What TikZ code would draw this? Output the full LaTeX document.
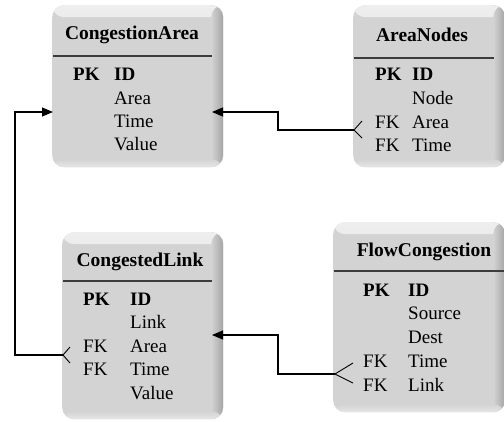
\documentclass[tikz,border=0pt]{standalone}
\usepackage{fontspec}
\setmainfont{Liberation Serif}
\usetikzlibrary{arrows.meta}
\definecolor{face}{RGB}{211,211,211}
\definecolor{lightb}{RGB}{238,238,238}
\definecolor{darkb}{RGB}{165,165,165}
\definecolor{sepline}{RGB}{60,60,60}
\tikzset{
  x=1pt,y=-1pt,
  tablebox/.style={rectangle, rounded corners=12pt, fill=face, inner sep=0pt, anchor=north west,
    path picture={
      \shade[top color=lightb,bottom color=face] (path picture bounding box.north west) rectangle ([yshift=-12pt]path picture bounding box.north east);
      \shade[left color=face,right color=darkb] ([xshift=-12pt]path picture bounding box.north east) rectangle (path picture bounding box.south east);
      \shade[top color=face,bottom color=lightb!70!face] ([yshift=8pt]path picture bounding box.south west) rectangle (path picture bounding box.south east);
    }},
  title/.style={font=\fontsize{19.5}{21}\selectfont\bfseries, inner sep=0pt, anchor=center},
  fld/.style={font=\fontsize{19}{21}\selectfont, inner sep=0pt, anchor=west},
  key/.style={font=\fontsize{19}{21}\selectfont\bfseries, inner sep=0pt, anchor=west},
  sep/.style={draw=sepline, line width=1.4pt},
  conn/.style={draw=black, line width=1.1pt},
  arr/.style={conn, -{Triangle[length=11pt,width=9pt]}},
  foot/.style={draw=black, line width=0.9pt},
}
\begin{document}
\begin{tikzpicture}
\useasboundingbox (0,0) rectangle (504,421);
\fill[white] (0,0) rectangle (504,421);
\begin{scope}
\clip (0,0) rectangle (504,421);
% ---------- CongestionArea
\node[tablebox, minimum width=171pt, minimum height=162pt] (ca) at (52,5) {};
\node[title] (catitle) at (132,35) {CongestionArea};
\draw[sep] (53,56) -- (212,56);
\node[key] (capk) at (73,74) {PK};
\node[key] (caid) at (114,74) {ID};
\node[fld] (caarea) at (114,98) {Area};
\node[fld] (catime) at (114,121) {Time};
\node[fld] (cavalue) at (114,144) {Value};
% ---------- AreaNodes
\node[tablebox, minimum width=152pt, minimum height=162pt] (an) at (353,5) {};
\node[title] (antitle) at (422,35) {AreaNodes};
\draw[sep] (354,58) -- (494,58);
\node[key] (anpk) at (375,74) {PK};
\node[key] (anid) at (412,74) {ID};
\node[fld] (annode) at (412,98) {Node};
\node[fld] (anfk1) at (375,122) {FK};
\node[fld] (anarea) at (412,122) {Area};
\node[fld] (anfk2) at (375,145) {FK};
\node[fld] (antime) at (412,145) {Time};
% ---------- CongestedLink
\node[tablebox, minimum width=161pt, minimum height=187pt] (cl) at (62,232) {};
\node[title] (cltitle) at (140,262) {CongestedLink};
\draw[sep] (63,281) -- (212,281);
\node[key] (clpk) at (83,299) {PK};
\node[key] (clid) at (130,299) {ID};
\node[fld] (cllink) at (130,322) {Link};
\node[fld] (clfk1) at (83,346) {FK};
\node[fld] (clarea) at (130,346) {Area};
\node[fld] (clfk2) at (83,369) {FK};
\node[fld] (cltime) at (130,369) {Time};
\node[fld] (clvalue) at (130,393) {Value};
% ---------- FlowCongestion
\node[tablebox, minimum width=172pt, minimum height=190pt] (fc) at (333,222) {};
\node[title] (fctitle) at (424,252) {FlowCongestion};
\draw[sep] (334,271) -- (504,271);
\node[key] (fcpk) at (363,290) {PK};
\node[key] (fcid) at (408,290) {ID};
\node[fld] (fcsource) at (408,313) {Source};
\node[fld] (fcdest) at (408,337) {Dest};
\node[fld] (fcfk1) at (363,361) {FK};
\node[fld] (fctime) at (408,361) {Time};
\node[fld] (fcfk2) at (363,385) {FK};
\node[fld] (fclink) at (408,385) {Link};
\end{scope}
% ---------- connector endpoints
\coordinate (caR) at (212,112);
\coordinate (caL) at (53,112);
\coordinate (anF) at (354,130);
\coordinate (clR) at (212,335);
\coordinate (clF) at (63,355);
\coordinate (fcF) at (335,374);
% AreaNodes -> CongestionArea
\draw[arr] (anF) -- (278,130) -- (278,112) -- (caR);
\draw[foot] (362,121) -- (anF) -- (362,138);
% CongestedLink -> CongestionArea
\draw[arr] (clF) -- (15,355) -- (15,112) -- (caL);
\draw[foot] (70,347) -- (clF) -- (70,363);
% FlowCongestion -> CongestedLink
\draw[arr] (fcF) -- (278,374) -- (278,335) -- (clR);
\draw[foot] (353,363) -- (fcF) -- (353,383);
\end{tikzpicture}
\end{document}
